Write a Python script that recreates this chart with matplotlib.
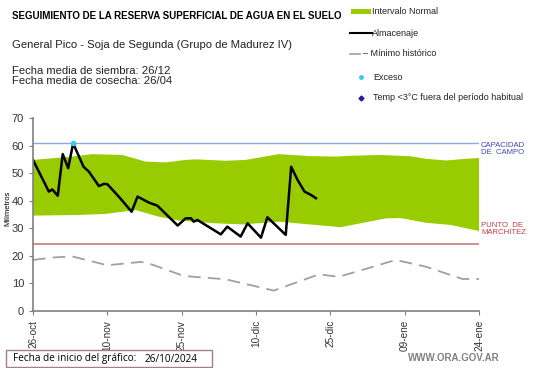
import matplotlib.pyplot as plt
from matplotlib.patches import Rectangle
from matplotlib.lines import Line2D

plt.rcParams['font.family'] = ['Liberation Sans', 'DejaVu Sans']

# datos (dias desde el 26/10/2024)
tick_days = [0, 15, 30, 45, 60, 75, 90]
tick_labels = ['26-oct', '10-nov', '25-nov', '10-dic', '25-dic', '09-ene', '24-ene']

upper_days = [0, 7.8, 12.0, 18.0, 22.7, 26.8, 30.8, 32.8, 38.9, 42.9, 49.6, 55.7, 61.1, 64.1,
              70.2, 76.3, 79.3, 83.4, 87.4, 90]
upper_vals = [54.8, 56.0, 56.9, 56.6, 54.2, 53.9, 54.8, 55.0, 54.5, 54.8, 56.9, 56.2, 56.0, 56.3,
              56.6, 56.1, 55.2, 54.6, 55.2, 55.5]
lower_days = [0, 8.6, 14.6, 20.7, 25.4, 29.4, 36.9, 42.3, 49.6, 57.1, 62.1, 71.2, 74.2, 79.3, 84.3, 90]
lower_vals = [34.6, 34.8, 35.2, 36.6, 34.2, 32.8, 31.8, 31.4, 32.4, 31.2, 30.4, 33.6, 33.7, 32.0, 31.2, 29.0]

alm_days = [0, 3.2, 3.9, 5.0, 6.0, 7.1, 8.1, 10.2, 11.3, 13.3, 14.3, 15.0, 17.4, 19.9, 21.1,
            23.4, 25.1, 29.2, 30.8, 31.9, 32.4, 33.2, 37.9, 39.2, 41.9, 43.3, 46.0, 47.3,
            51.0, 52.1, 53.4, 54.8, 56.1, 57.1]
alm_vals = [54.8, 43.3, 44.1, 41.8, 56.9, 51.8, 60.8, 52.3, 50.5, 45.3, 46.1, 46.0, 41.3, 36.0, 41.5,
            39.3, 38.2, 31.0, 33.6, 33.6, 32.4, 33.0, 27.8, 30.6, 27.0, 31.8, 26.6, 34.0,
            27.6, 52.3, 47.5, 43.3, 42.1, 40.9]

min_days = [0, 3.9, 7.9, 15.0, 21.7, 23.2, 30.4, 38.9, 48.6, 57.7, 61.7, 73.2, 79.2, 86.7, 90]
min_vals = [18.5, 19.4, 19.8, 16.6, 17.8, 17.4, 12.7, 11.5, 7.4, 13.3, 12.4, 18.5, 16.1, 11.6, 11.6]

exceso_days = [8.1]
exceso_vals = [60.8]

capacidad = 60.8
marchitez = 24.4

W, H = 541, 368
fig = plt.figure(figsize=(W / 100, H / 100), dpi=100)
ax = fig.add_axes([33 / W, 1 - 311 / H, (479 - 33) / W, (311 - 118) / H])

ax.fill(upper_days + lower_days[::-1], upper_vals + lower_vals[::-1], color='#99cc00', lw=0)
ax.axhline(capacidad, color='#8fa8d8', lw=1)
ax.axhline(marchitez, color='#c08080', lw=1.2)
ax.plot(min_days, min_vals, color='#a0a0a0', lw=1.3, dashes=(7, 4))
ax.plot(alm_days, alm_vals, color='black', lw=1.8)
ax.plot(exceso_days, exceso_vals, 'o', color='#33ccee', ms=3)

ax.set_xlim(0, 90)
ax.set_ylim(0, 70)
ax.set_yticks(range(0, 71, 10))
ax.set_xticks(tick_days)
ax.set_xticklabels(tick_labels, rotation=90)
for s in ['top', 'right']:
    ax.spines[s].set_visible(False)
for s in ['left', 'bottom']:
    ax.spines[s].set_color('#808080')
    ax.spines[s].set_linewidth(1.2)
ax.tick_params(colors='#808080', labelcolor='#333333', labelsize=8, length=3)
ax.tick_params(axis='x', labelsize=7.2)


def fy(y):
    return 1 - y / H


fig.text(8 / W, fy(208), 'Milímetros', fontsize=5.5, rotation=90, ha='center', va='center')

fig.text(12 / W, fy(16), 'SEGUIMIENTO DE LA RESERVA SUPERFICIAL DE AGUA EN EL SUELO',
         fontsize=7.0, fontweight='bold', va='center')
fig.text(12 / W, fy(45), 'General Pico - Soja de Segunda (Grupo de Madurez IV)',
         fontsize=8.1, va='center', color='#222222')
fig.text(12 / W, fy(71), 'Fecha media de siembra: 26/12', fontsize=8.1, va='center', color='#222222')
fig.text(12 / W, fy(81), 'Fecha media de cosecha: 26/04', fontsize=8.1, va='center', color='#222222')

# leyenda
fig.patches.append(Rectangle((351 / W, fy(14)), 20 / W, 5 / H, transform=fig.transFigure,
                             color='#99cc00', lw=0))
fig.lines.append(Line2D([350 / W, 372 / W], [fy(33), fy(33)], transform=fig.transFigure,
                        color='black', lw=1.5))
fig.lines.append(Line2D([350 / W, 360 / W], [fy(54), fy(54)], transform=fig.transFigure,
                        color='#a0a0a0', lw=1.2))
fig.lines.append(Line2D([361 / W], [fy(77)], transform=fig.transFigure, marker='o',
                        color='#33ccee', ms=2.5, lw=0))
fig.lines.append(Line2D([361 / W], [fy(98)], transform=fig.transFigure, marker='D',
                        color='#1f1f99', ms=2.5, lw=0))
leg_items = [(12, 'Intervalo Normal', 372), (33, 'Almacenaje', 372), (54, '– Mínimo histórico', 363),
             (77, 'Exceso', 373), (98, 'Temp <3°C fuera del período habitual', 373)]
for y, txt, x in leg_items:
    fig.text(x / W, fy(y), txt, fontsize=6.5, va='center', color='#222222')

fig.text(481 / W, fy(149), 'CAPACIDAD\nDE  CAMPO', fontsize=5.6, color='#4444bb',
         va='center', linespacing=1.15)
fig.text(481 / W, fy(229), 'PUNTO  DE\nMARCHITEZ', fontsize=5.6, color='#c04040',
         va='center', linespacing=1.15)

fig.patches.append(Rectangle((6 / W, fy(367)), 206 / W, 17 / H, transform=fig.transFigure,
                             fc='white', ec='#a08080', lw=1))
fig.text(13 / W, fy(359), 'Fecha de inicio del gráfico:', fontsize=7.2, va='center',
         family=['Open Sans', 'DejaVu Sans'])
fig.text(145 / W, fy(359), '26/10/2024', fontsize=7.2, va='center',
         family=['Open Sans', 'DejaVu Sans'])
fig.text(500 / W, fy(358), 'WWW.ORA.GOV.AR', fontsize=7, fontweight='bold', color='#808080',
         ha='right', va='center')

fig.savefig('out.png', dpi=100)
